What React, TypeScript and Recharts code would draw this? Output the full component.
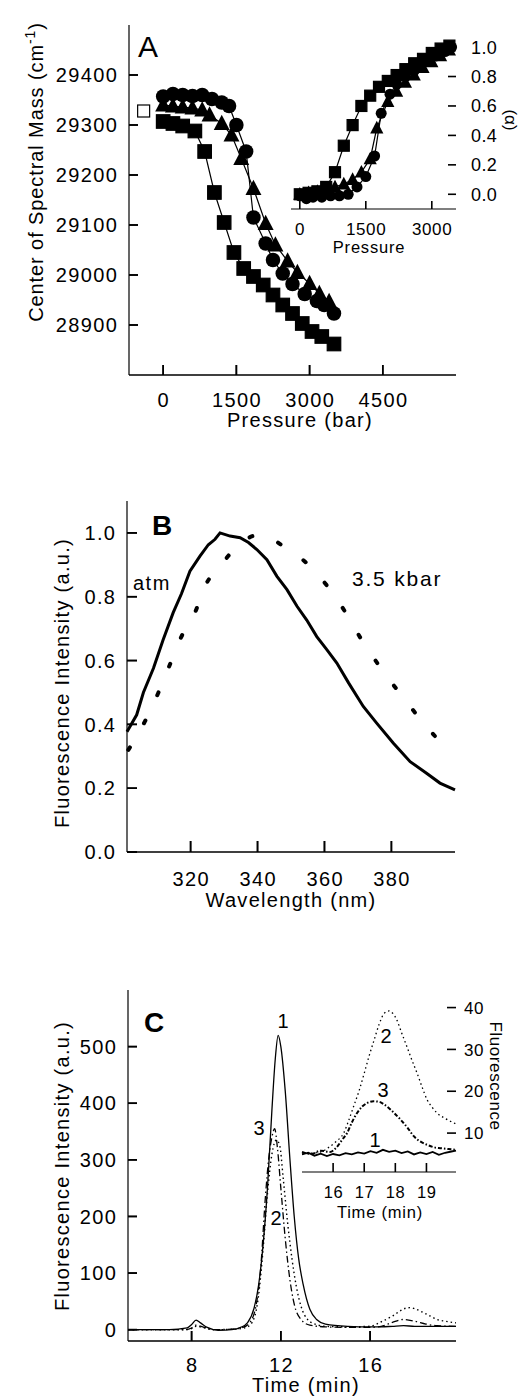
import React from 'react';
import { ScatterChart, ComposedChart, Scatter, Line, XAxis, YAxis } from 'recharts';

const FONT = '"Liberation Sans", Arial, Helvetica, sans-serif';

// ---- Panel A: centre of spectral mass vs pressure ----
const SQ_P = [0, 200, 400, 650, 850, 1050, 1250, 1450, 1650, 1850, 2050, 2250, 2450, 2650, 2850, 3050, 3250, 3500];
const SQ_V = [29307, 29303, 29298, 29288, 29247, 29165, 29105, 29045, 29013, 28997, 28980, 28960, 28940, 28923, 28903, 28887, 28877, 28862];

const TRI_P = [0, 200, 400, 600, 800, 950, 1200, 1400, 1600, 1850, 2100, 2300, 2550, 2750, 3000, 3200, 3400];
const TRI_V = [29340, 29338, 29336, 29334, 29330, 29320, 29303, 29280, 29233, 29173, 29103, 29060, 29028, 29005, 28983, 28963, 28947];

const CIR_P = [0, 200, 400, 600, 800, 1000, 1200, 1350, 1500, 1700, 1850, 2100, 2250, 2450, 2650, 2900, 3150, 3300, 3500];
const CIR_V = [29357, 29362, 29360, 29358, 29360, 29352, 29345, 29338, 29300, 29247, 29115, 29063, 29030, 29003, 28982, 28962, 28948, 28940, 28923];

const OPEN_P = [-400];
const OPEN_V = [29328];

// inset: fraction unfolded (alpha)
const ISQ_P = [0, 200, 400, 600, 800, 1000, 1200, 1400, 1600, 1800, 2000, 2200, 2400, 2600, 2800, 3000, 3200, 3400];
const ISQ_A = [0.0, 0.01, 0.02, 0.05, 0.15, 0.33, 0.47, 0.6, 0.67, 0.73, 0.77, 0.81, 0.85, 0.89, 0.92, 0.96, 0.99, 1.01];

const ITRI_P = [0, 200, 400, 600, 800, 1000, 1200, 1400, 1600, 1750, 2000, 2200, 2400, 2600, 2800, 3000, 3200, 3400];
const ITRI_A = [0.0, 0.01, 0.02, 0.03, 0.05, 0.07, 0.1, 0.15, 0.24, 0.45, 0.63, 0.7, 0.76, 0.81, 0.86, 0.9, 0.94, 0.98];

const ICIR_P = [0, 150, 300, 500, 700, 900, 1100, 1300, 1500, 1700, 1850, 2050, 2200, 2400, 2600, 2750, 2950, 3100, 3300, 3450];
const ICIR_A = [-0.01, -0.03, -0.02, -0.02, -0.01, -0.01, 0.0, 0.05, 0.12, 0.26, 0.55, 0.68, 0.75, 0.8, 0.84, 0.88, 0.91, 0.94, 0.97, 1.0];

const A_X_TICKS = [0, 1500, 3000, 4500];
const A_Y_TICKS = [28900, 29000, 29100, 29200, 29300, 29400];
const AI_X_TICKS = [0, 1500, 3000];
const AI_Y_TICKS = [0, 0.2, 0.4, 0.6, 0.8, 1.0];

// ---- Panel B: emission spectra ----
const ATM_W = [301, 303.9, 305.9, 308.9, 311.8, 314.8, 317.3, 319.8, 322.8, 325.3, 327.3, 328.8, 331.8, 334.8, 337.3, 339.8, 342.8, 345.8, 348.8, 351.8, 354.7, 357.7, 360.7, 363.7, 367.2, 371.6, 375.6, 380.6, 385.6, 390.5, 394.5, 399];
const ATM_V = [0.377, 0.43, 0.5, 0.576, 0.665, 0.75, 0.81, 0.88, 0.927, 0.963, 0.98, 1.0, 0.99, 0.985, 0.97, 0.948, 0.916, 0.864, 0.822, 0.77, 0.727, 0.675, 0.634, 0.592, 0.53, 0.456, 0.404, 0.341, 0.283, 0.247, 0.216, 0.195];

const KBAR_W = [301.4, 306.4, 310.4, 313.8, 317.3, 321.3, 324.3, 328.8, 334.5, 341.2, 347.5, 355.2, 361.1, 366.1, 371.1, 376.6, 382.1, 387.6, 393.1, 398.6];
const KBAR_V = [0.32, 0.41, 0.5, 0.587, 0.676, 0.75, 0.833, 0.895, 0.965, 0.995, 0.96, 0.9, 0.83, 0.754, 0.665, 0.58, 0.503, 0.43, 0.362, 0.3];

const B_X_TICKS = [320, 340, 360, 380];
const B_Y_TICKS = [0, 0.2, 0.4, 0.6, 0.8, 1.0];

// ---- Panel C: chromatograms ----
const T1 = [5.15, 7.0, 7.8, 8.0, 8.2, 8.4, 8.7, 9.2, 9.8, 10.2, 10.5, 10.8, 11.0, 11.2, 11.4, 11.6, 11.75, 11.88, 12.0, 12.2, 12.4, 12.6, 12.8, 13.0, 13.3, 13.6, 14.0, 15.0, 16.0, 16.5, 17.0, 17.5, 18.0, 18.5, 19.0, 19.85];
const V1 = [0, 0, 3, 9, 17, 12, 4, -1, 0, 4, 12, 38, 78, 148, 250, 388, 478, 520, 500, 420, 305, 200, 125, 80, 36, 18, 10, 6, 5, 5, 6, 7, 6, 6, 6, 6];

const T2 = [5.15, 7.7, 8.0, 8.2, 8.5, 9.0, 10.0, 10.5, 10.8, 11.0, 11.2, 11.4, 11.6, 11.8, 11.95, 12.1, 12.3, 12.5, 12.7, 12.9, 13.2, 13.6, 14.0, 15.0, 16.0, 16.5, 17.0, 17.3, 17.6, 17.8, 18.0, 18.4, 18.7, 19.0, 19.35, 19.85];
const V2 = [0, 0, 2, 6, 4, 0, 1, 5, 20, 60, 140, 240, 310, 335, 325, 270, 190, 125, 75, 42, 18, 9, 6, 5, 6, 14, 24, 32, 38, 39, 37, 30, 24, 18, 15, 12];

const T3 = [5.15, 7.7, 8.0, 8.2, 8.5, 9.0, 9.8, 10.3, 10.6, 10.9, 11.1, 11.3, 11.45, 11.6, 11.72, 11.85, 12.0, 12.2, 12.4, 12.6, 12.9, 13.3, 14.0, 15.0, 16.0, 16.5, 17.0, 17.5, 18.0, 18.5, 19.0, 19.85];
const V3 = [0, 0, 3, 8, 5, 0, 1, 4, 12, 45, 110, 230, 300, 340, 355, 320, 250, 160, 90, 45, 18, 8, 5, 4, 4, 6, 13, 18, 15, 10, 7, 6];

// inset (late eluting peak)
const IT1 = [15.0, 15.2, 15.4, 15.6, 15.8, 16.0, 16.2, 16.4, 16.6, 16.8, 17.0, 17.2, 17.4, 17.6, 17.8, 18.0, 18.2, 18.4, 18.6, 18.8, 19.0, 19.2, 19.4, 19.6, 19.8, 19.95];
const IV1 = [4.9, 5.3, 4.6, 5.1, 4.5, 5.0, 4.7, 5.2, 4.9, 5.4, 5.1, 5.7, 5.3, 6.0, 5.5, 5.8, 5.2, 5.6, 4.9, 5.4, 5.0, 5.5, 4.8, 5.3, 5.6, 5.8];

const IT2 = [15.0, 15.3, 15.6, 15.9, 16.1, 16.34, 16.5, 16.66, 16.83, 17.0, 17.16, 17.32, 17.48, 17.64, 17.8, 17.92, 18.05, 18.2, 18.37, 18.53, 18.7, 18.86, 19.02, 19.18, 19.34, 19.6, 19.95];
const IV2 = [5.0, 5.2, 5.5, 6.8, 8.0, 10.0, 13.0, 16.4, 20.0, 24.3, 28.5, 32.3, 36.0, 38.6, 39.2, 38.6, 37.0, 34.0, 30.7, 27.5, 24.3, 21.0, 18.0, 16.2, 14.8, 13.5, 12.2];

const IT3 = [15.0, 15.3, 15.6, 15.9, 16.1, 16.3, 16.45, 16.6, 16.77, 16.93, 17.1, 17.3, 17.47, 17.65, 17.85, 18.0, 18.17, 18.4, 18.6, 18.8, 19.02, 19.25, 19.45, 19.7, 19.95];
const IV3 = [5.5, 5.0, 5.8, 5.5, 6.5, 8.5, 10.0, 12.5, 14.8, 16.3, 17.2, 17.6, 17.5, 16.8, 15.6, 14.5, 13.2, 11.2, 9.2, 8.0, 7.2, 6.6, 6.4, 6.2, 6.0];

const C_X_TICKS = [8, 12, 16];
const C_Y_TICKS = [0, 100, 200, 300, 400, 500];
const CI_X_TICKS = [16, 17, 18, 19];
const CI_Y_TICKS = [10, 20, 30, 40];

const pairs = (xs: number[], ys: number[]) => xs.map((x, i) => ({ x, y: ys[i] }));

const line = { stroke: '#000', strokeWidth: 1.2 };
const fmt1 = (v: number) => v.toFixed(1);

// axis tick labels (left / bottom axes)
type Side = 'left' | 'right' | 'bottom';
const label = (side: Side, size: number, ls: number, fmt?: (v: number) => string) => (props: any) => {
  const { x, y, payload } = props;
  const txt = fmt ? fmt(payload.value) : String(payload.value);
  const common = { fill: '#000', fontSize: size, fontFamily: FONT, letterSpacing: ls };
  if (side === 'left') return <text x={x + ls} y={y} dy="0.36em" textAnchor="end" {...common}>{txt}</text>;
  return <text x={x + ls / 2} y={y} dy="0.71em" textAnchor="middle" {...common}>{txt}</text>;
};

// inward tick marks: a tick series sitting on the box edge, drawn as thin filled bars
type Lab = { gap: number; size: number; ls: number; fmt?: (v: number) => string };
const TW = 1.6;
const stub = (side: Side, len: number, lab?: Lab) => (p: any) => {
  const cx = Number(p.cx);
  const cy = Number(p.cy);
  if (!isFinite(cx) || !isFinite(cy)) return <g />;
  let bar;
  if (side === 'left') bar = <rect x={cx} y={cy - TW / 2} width={len} height={TW} fill="#000" stroke="none" />;
  else if (side === 'bottom') bar = <rect x={cx - TW / 2} y={cy - len} width={TW} height={len} fill="#000" stroke="none" />;
  else bar = <rect x={cx - len} y={cy - TW / 2} width={len} height={TW} fill="#000" stroke="none" />;
  const v = p.payload ? p.payload.y : 0;
  return (
    <g>
      {bar}
      {lab && (
        <text x={cx + lab.gap} y={cy} dy="0.36em" textAnchor="start" fill="#000"
          fontSize={lab.size} fontFamily={FONT} letterSpacing={lab.ls}>
          {lab.fmt ? lab.fmt(v) : String(v)}
        </text>
      )}
    </g>
  );
};
const onY = (ticks: number[], edge: number) => ticks.map((t) => ({ x: edge, y: t }));
const onX = (ticks: number[], edge: number) => ticks.map((t) => ({ x: t, y: edge }));

// transparent layer carrying the inward ticks of a main panel (same set-up as the insets)
type TickLayerProps = {
  height: number; top: number; right: number; left: number; bottom: number; axisH: number;
  xd: number[]; yd: number[]; xTicks: number[]; yTicks: number[]; xLen: number; yLen: number;
};
function TickLayer({ height, top, right, left, bottom, axisH, xd, yd, xTicks, yTicks, xLen, yLen }: TickLayerProps) {
  return (
    <ScatterChart width={527} height={height} margin={{ top, right, left, bottom: bottom - axisH }}>
      <XAxis xAxisId="b" type="number" dataKey="x" domain={xd} ticks={xTicks} interval={0}
        height={axisH} tick={false} tickLine={false} axisLine={line} />
      <YAxis yAxisId="r" orientation="right" type="number" dataKey="y" domain={yd} ticks={yTicks}
        width={0} tick={false} tickLine={false} axisLine={line} />
      <Scatter xAxisId="b" yAxisId="r" data={onY(yTicks, xd[0])} shape={stub('left', yLen)} isAnimationActive={false} />
      <Scatter xAxisId="b" yAxisId="r" data={onX(xTicks, yd[0])} shape={stub('bottom', xLen)} isAnimationActive={false} />
    </ScatterChart>
  );
}

const square = (s: number, filled = true) => (props: any) => {
  const { cx, cy } = props;
  if (cx == null || cy == null) return <g />;
  return (
    <rect x={cx - s / 2} y={cy - s / 2} width={s} height={s}
      fill={filled ? '#000' : '#fff'} stroke="#000" strokeWidth={1.2} />
  );
};
const circle = (d: number) => (props: any) => {
  const { cx, cy } = props;
  if (cx == null || cy == null) return <g />;
  return <circle cx={cx} cy={cy} r={d / 2} fill="#000" />;
};
const triangle = (s: number) => (props: any) => {
  const { cx, cy } = props;
  if (cx == null || cy == null) return <g />;
  const pts = `${cx},${cy - s * 0.6} ${cx - s * 0.55},${cy + s * 0.45} ${cx + s * 0.55},${cy + s * 0.45}`;
  return <polygon points={pts} fill="#000" />;
};

// frame-only axes (top / right edge of a plot box)
const frameX = (id: string, domain: number[]) => (
  <XAxis xAxisId={id} orientation="top" type="number" domain={domain} height={0}
    tick={false} tickLine={false} axisLine={line} allowDataOverflow />
);
const frameY = (id: string, domain: number[], orientation: 'left' | 'right') => (
  <YAxis yAxisId={id} orientation={orientation} type="number" domain={domain} width={0}
    tick={false} tickLine={false} axisLine={line} allowDataOverflow />
);

const A_XD = [-700, 6000];
const A_YD = [28800, 29500];
const B_XD = [301, 399];
const B_YD = [0, 1.1];
const C_XD = [5.15, 19.85];
const C_YD = [-20, 600];

function PanelA() {
  return (
    <ScatterChart width={527} height={440} margin={{ top: 25, right: 71, bottom: 5, left: 0 }}>
      <XAxis xAxisId="b" type="number" dataKey="x" domain={A_XD} ticks={A_X_TICKS} interval={0}
        height={60} tickSize={0} tickMargin={18} tick={label('bottom', 20, 1.4)}
        tickLine={false} axisLine={line} />
      {frameX('t', A_XD)}
      <YAxis yAxisId="l" type="number" dataKey="y" domain={A_YD} ticks={A_Y_TICKS} interval={0}
        width={129} tickSize={0} tickMargin={12} tick={label('left', 20, 1.4)}
        tickLine={false} axisLine={line} />
      {frameY('r', A_YD, 'right')}
      <Scatter xAxisId="b" yAxisId="l" data={onY(A_Y_TICKS, A_XD[0])} shape={stub('left', 9)} isAnimationActive={false} />
      <Scatter xAxisId="b" yAxisId="l" data={onX(A_X_TICKS, A_YD[0])} shape={stub('bottom', 10)} isAnimationActive={false} />
      <Scatter xAxisId="b" yAxisId="l" data={pairs(SQ_P, SQ_V)} line={line} shape={square(13.5)} isAnimationActive={false} />
      <Scatter xAxisId="b" yAxisId="l" data={pairs(TRI_P, TRI_V)} line={line} shape={triangle(14.5)} isAnimationActive={false} />
      <Scatter xAxisId="b" yAxisId="l" data={pairs(CIR_P, CIR_V)} line={line} shape={circle(14.5)} isAnimationActive={false} />
      <Scatter xAxisId="b" yAxisId="l" data={pairs(OPEN_P, OPEN_V)} shape={square(12, false)} isAnimationActive={false} />
    </ScatterChart>
  );
}

function InsetA() {
  const xd = [-200, 3550];
  const yd = [-0.1, 1.15];
  return (
    <ScatterChart width={527} height={280} margin={{ top: 25, right: 71, bottom: 11, left: 291 }}>
      <XAxis xAxisId="b" type="number" dataKey="x" domain={xd} ticks={AI_X_TICKS} interval={0}
        height={60} tickSize={0} tickMargin={14} tick={label('bottom', 17, 0.6)}
        tickLine={false} axisLine={line} />
      {frameY('l', yd, 'left')}
      <YAxis yAxisId="r" orientation="right" type="number" dataKey="y" domain={yd} ticks={AI_Y_TICKS}
        width={0} tick={false} tickLine={false} axisLine={line} />
      <Scatter xAxisId="b" yAxisId="r" data={onY(AI_Y_TICKS, xd[1])}
        shape={stub('right', 8, { gap: 15, size: 18, ls: 0.4, fmt: fmt1 })} isAnimationActive={false} />
      <Scatter xAxisId="b" yAxisId="r" data={onX(AI_X_TICKS, yd[0])} shape={stub('bottom', 8)} isAnimationActive={false} />
      <Scatter xAxisId="b" yAxisId="r" data={pairs(ISQ_P, ISQ_A)} line={line} shape={square(11)} isAnimationActive={false} />
      <Scatter xAxisId="b" yAxisId="r" data={pairs(ITRI_P, ITRI_A)} line={line} shape={triangle(12)} isAnimationActive={false} />
      <Scatter xAxisId="b" yAxisId="r" data={pairs(ICIR_P, ICIR_A)} line={line} shape={circle(11)} isAnimationActive={false} />
    </ScatterChart>
  );
}

function PanelB() {
  return (
    <ComposedChart width={527} height={460} margin={{ top: 41, right: 72, bottom: 8, left: 0 }}>
      <XAxis xAxisId="b" type="number" dataKey="x" domain={B_XD} ticks={B_X_TICKS} interval={0}
        height={60} tickSize={0} tickMargin={20} tick={label('bottom', 20, 1.4)}
        tickLine={false} axisLine={line} />
      {frameX('t', B_XD)}
      <YAxis yAxisId="l" type="number" dataKey="y" domain={B_YD} ticks={B_Y_TICKS} interval={0}
        width={127} tickSize={0} tickMargin={12} tick={label('left', 20, 1.4, fmt1)}
        tickLine={false} axisLine={line} />
      {frameY('r', B_YD, 'right')}
      <Scatter xAxisId="b" yAxisId="l" data={onY(B_Y_TICKS, B_XD[0])} shape={stub('left', 10)} isAnimationActive={false} />
      <Scatter xAxisId="b" yAxisId="l" data={onX(B_X_TICKS, B_YD[0])} shape={stub('bottom', 11)} isAnimationActive={false} />
      <Line xAxisId="b" yAxisId="l" data={pairs(ATM_W, ATM_V)} dataKey="y" type="linear"
        stroke="#000" strokeWidth={3} dot={false} isAnimationActive={false} />
      <Line xAxisId="b" yAxisId="l" data={pairs(KBAR_W, KBAR_V)} dataKey="y" type="monotone"
        stroke="#000" strokeWidth={4} strokeDasharray="3 28" strokeLinecap="round" dot={false} isAnimationActive={false} />
    </ComposedChart>
  );
}

function PanelC() {
  return (
    <ComposedChart width={527} height={460} margin={{ top: 50, right: 71, bottom: 4, left: 0 }}>
      <XAxis xAxisId="b" type="number" dataKey="x" domain={C_XD} ticks={C_X_TICKS} interval={0}
        height={55} tickSize={0} tickMargin={17} tick={label('bottom', 20, 1.4)}
        tickLine={false} axisLine={line} />
      {frameX('t', C_XD)}
      <YAxis yAxisId="l" type="number" dataKey="y" domain={C_YD} ticks={C_Y_TICKS} interval={0}
        width={128} tickSize={0} tickMargin={12} tick={label('left', 20, 1.4)}
        tickLine={false} axisLine={line} />
      {frameY('r', C_YD, 'right')}
      <Scatter xAxisId="b" yAxisId="l" data={onY(C_Y_TICKS, C_XD[0])} shape={stub('left', 9)} isAnimationActive={false} />
      <Scatter xAxisId="b" yAxisId="l" data={onX(C_X_TICKS, C_YD[0])} shape={stub('bottom', 10)} isAnimationActive={false} />
      <Line xAxisId="b" yAxisId="l" data={pairs(T1, V1)} dataKey="y" type="monotone"
        stroke="#000" strokeWidth={1.3} dot={false} isAnimationActive={false} />
      <Line xAxisId="b" yAxisId="l" data={pairs(T2, V2)} dataKey="y" type="monotone"
        stroke="#000" strokeWidth={1.4} strokeDasharray="1.5 3" dot={false} isAnimationActive={false} />
      <Line xAxisId="b" yAxisId="l" data={pairs(T3, V3)} dataKey="y" type="monotone"
        stroke="#000" strokeWidth={1.3} strokeDasharray="7 3 1.5 3" dot={false} isAnimationActive={false} />
    </ComposedChart>
  );
}

function InsetC() {
  const xd = [15, 19.95];
  const yd = [0.7, 44.2];
  return (
    <ComposedChart width={527} height={300} margin={{ top: 50, right: 71, bottom: 8, left: 302 }}>
      <XAxis xAxisId="b" type="number" dataKey="x" domain={xd} ticks={CI_X_TICKS} interval={0}
        height={60} tickSize={0} tickMargin={14} tick={label('bottom', 16.5, 0.6)}
        tickLine={false} axisLine={line} />
      {frameY('l', yd, 'left')}
      <YAxis yAxisId="r" orientation="right" type="number" dataKey="y" domain={yd} ticks={CI_Y_TICKS}
        width={0} tick={false} tickLine={false} axisLine={line} />
      <Scatter xAxisId="b" yAxisId="r" data={onY(CI_Y_TICKS, xd[1])}
        shape={stub('right', 9, { gap: 8, size: 17, ls: 0.6 })} isAnimationActive={false} />
      <Scatter xAxisId="b" yAxisId="r" data={onX(CI_X_TICKS, yd[0])} shape={stub('bottom', 9)} isAnimationActive={false} />
      <Line xAxisId="b" yAxisId="r" data={pairs(IT1, IV1)} dataKey="y" type="linear"
        stroke="#000" strokeWidth={1.8} dot={false} isAnimationActive={false} />
      <Line xAxisId="b" yAxisId="r" data={pairs(IT2, IV2)} dataKey="y" type="monotone"
        stroke="#000" strokeWidth={1.3} strokeDasharray="1.5 3" dot={false} isAnimationActive={false} />
      <Line xAxisId="b" yAxisId="r" data={pairs(IT3, IV3)} dataKey="y" type="monotone"
        stroke="#000" strokeWidth={2} strokeDasharray="4 2 1.5 2" dot={false} isAnimationActive={false} />
    </ComposedChart>
  );
}

const abs = (top: number): React.CSSProperties => ({ position: 'absolute', left: 0, top });

export default function App() {
  return (
    <div style={{ position: 'absolute', left: 0, top: 0, width: 527, height: 1400, background: '#fff', fontFamily: FONT }}>
      <div style={abs(0)}><PanelA /></div>
      <div style={abs(0)}>
        <TickLayer height={440} top={25} right={71} left={129} bottom={65} axisH={60} xd={A_XD} yd={A_YD}
          xTicks={A_X_TICKS} yTicks={A_Y_TICKS} xLen={10} yLen={9} />
      </div>
      <div style={abs(0)}><InsetA /></div>
      <div style={abs(460)}><PanelB /></div>
      <div style={abs(460)}>
        <TickLayer height={460} top={41} right={72} left={127} bottom={68} axisH={60} xd={B_XD} yd={B_YD}
          xTicks={B_X_TICKS} yTicks={B_Y_TICKS} xLen={11} yLen={10} />
      </div>
      <div style={abs(940)}><PanelC /></div>
      <div style={abs(940)}>
        <TickLayer height={460} top={50} right={71} left={128} bottom={59} axisH={55} xd={C_XD} yd={C_YD}
          xTicks={C_X_TICKS} yTicks={C_Y_TICKS} xLen={10} yLen={9} />
      </div>
      <div style={abs(940)}><InsetC /></div>
      <svg width={527} height={1400} style={{ position: 'absolute', left: 0, top: 0, pointerEvents: 'none' }}
        fontFamily={FONT} fill="#000">
        {/* panel A */}
        <text x={138} y={57} fontSize={30}>A</text>
        <text transform="translate(36,172) rotate(-90)" textAnchor="middle" fontSize={20} letterSpacing={0.9} dy="0.36em">
          Center of Spectral Mass (cm<tspan fontSize={14} dy={-8}>-1</tspan><tspan dy={8}>)</tspan>
        </text>
        <text x={300} y={427} textAnchor="middle" fontSize={20} letterSpacing={1.3}>Pressure (bar)</text>
        <text x={369} y={253} textAnchor="middle" fontSize={16.5} letterSpacing={0.8}>Pressure</text>
        <text transform="translate(511,120) rotate(90)" textAnchor="middle" fontSize={17} dy="0.36em">(α)</text>
        {/* panel B */}
        <text x={152} y={535} fontSize={28} fontWeight="bold">B</text>
        <text x={133} y={590} fontSize={20} letterSpacing={1.5}>atm</text>
        <text x={352} y={586} fontSize={21} letterSpacing={1.8}>3.5 kbar</text>
        <text transform="translate(62,683) rotate(-90)" textAnchor="middle" fontSize={20} letterSpacing={1.3} dy="0.36em">
          Fluorescence Intensity (a.u.)
        </text>
        <text x={291} y={907} textAnchor="middle" fontSize={20} letterSpacing={1.3}>Wavelength (nm)</text>
        {/* panel C */}
        <text x={144} y={1032} fontSize={28} fontWeight="bold">C</text>
        <text x={283} y={1028} textAnchor="middle" fontSize={20}>1</text>
        <text x={259} y={1135} textAnchor="middle" fontSize={20}>3</text>
        <text x={276} y={1225} textAnchor="middle" fontSize={20}>2</text>
        <text transform="translate(62,1166) rotate(-90)" textAnchor="middle" fontSize={20} letterSpacing={1.3} dy="0.36em">
          Fluorescence Intensity (a.u.)
        </text>
        <text x={306} y={1392} textAnchor="middle" fontSize={20} letterSpacing={1.3}>Time (min)</text>
        <text x={386} y={1043} textAnchor="middle" fontSize={20}>2</text>
        <text x={383} y={1097} textAnchor="middle" fontSize={20}>3</text>
        <text x={375} y={1147} textAnchor="middle" fontSize={20}>1</text>
        <text x={380} y={1218} textAnchor="middle" fontSize={16.5} letterSpacing={0.8}>Time (min)</text>
        <text transform="translate(496,1076) rotate(90)" textAnchor="middle" fontSize={17} letterSpacing={0.6} dy="0.36em">Fluorescence</text>
      </svg>
    </div>
  );
}
